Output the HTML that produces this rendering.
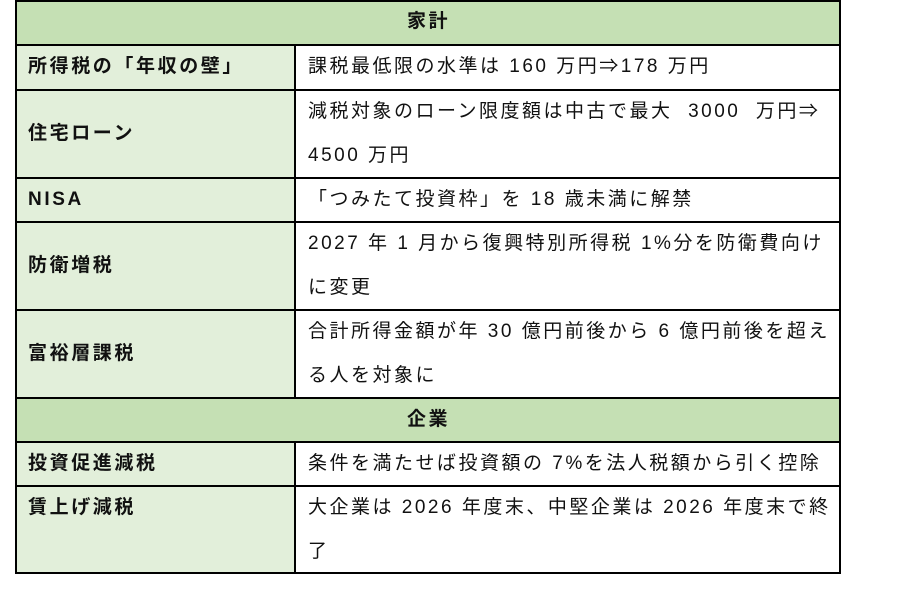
<!DOCTYPE html>
<html><head><meta charset="utf-8"><style>
body{margin:0;width:915px;height:613px;background:#fff;position:relative;font-family:"Liberation Sans","Noto Sans CJK JP",sans-serif;font-size:19px;color:#111;overflow:hidden}
.b{position:absolute;background:#000}
.f{position:absolute}
.t{position:absolute;line-height:44px;white-space:nowrap;letter-spacing:2.5px}
.l{font-weight:bold;left:28px;letter-spacing:2.6px}
.r{left:308px}
</style></head><body>
<div class="f" style="left:16px;top:0;width:825px;height:45px;background:#c5e0b4"></div>
<div class="f" style="left:16px;top:398px;width:825px;height:44px;background:#c5e0b4"></div>
<div class="f" style="left:16px;top:45px;width:279px;height:353px;background:#e2efda"></div>
<div class="f" style="left:16px;top:442px;width:279px;height:131px;background:#e2efda"></div>
<div class="b" style="left:15px;top:0;width:2px;height:574px"></div>
<div class="b" style="left:839px;top:0;width:2px;height:574px"></div>
<div class="b" style="left:294px;top:45px;width:2px;height:353px"></div>
<div class="b" style="left:294px;top:442px;width:2px;height:131px"></div>
<div class="b" style="left:15px;top:0;width:826px;height:2px"></div>
<div class="b" style="left:15px;top:44px;width:826px;height:2px"></div>
<div class="b" style="left:15px;top:89px;width:826px;height:2px"></div>
<div class="b" style="left:15px;top:177px;width:826px;height:2px"></div>
<div class="b" style="left:15px;top:221px;width:826px;height:2px"></div>
<div class="b" style="left:15px;top:309px;width:826px;height:2px"></div>
<div class="b" style="left:15px;top:397px;width:826px;height:2px"></div>
<div class="b" style="left:15px;top:441px;width:826px;height:2px"></div>
<div class="b" style="left:15px;top:485px;width:826px;height:2px"></div>
<div class="b" style="left:15px;top:572px;width:826px;height:2px"></div>
<div class="t" style="left:16px;width:825px;text-align:center;top:0;font-weight:bold">家計</div>
<div class="t l" style="top:45px">所得税の「年収の壁」</div>
<div class="t r" style="top:45px">課税最低限の水準は 160 万円⇒178 万円</div>
<div class="t l" style="top:112px">住宅ローン</div>
<div class="t r" style="top:90px">減税対象のローン限度額は中古で最大&nbsp; 3000&nbsp; 万円⇒<br>4500 万円</div>
<div class="t l" style="top:178px">NISA</div>
<div class="t r" style="top:178px">「つみたて投資枠」を 18 歳未満に解禁</div>
<div class="t l" style="top:244px">防衛増税</div>
<div class="t r" style="top:222px">2027 年 1 月から復興特別所得税 1%分を防衛費向け<br>に変更</div>
<div class="t l" style="top:332px">富裕層課税</div>
<div class="t r" style="top:310px">合計所得金額が年 30 億円前後から 6 億円前後を超え<br>る人を対象に</div>
<div class="t" style="left:16px;width:825px;text-align:center;top:398px;font-weight:bold">企業</div>
<div class="t l" style="top:442px">投資促進減税</div>
<div class="t r" style="top:442px">条件を満たせば投資額の 7%を法人税額から引く控除</div>
<div class="t l" style="top:486px">賃上げ減税</div>
<div class="t r" style="top:486px">大企業は 2026 年度末、中堅企業は 2026 年度末で終<br>了</div>
</body></html>
